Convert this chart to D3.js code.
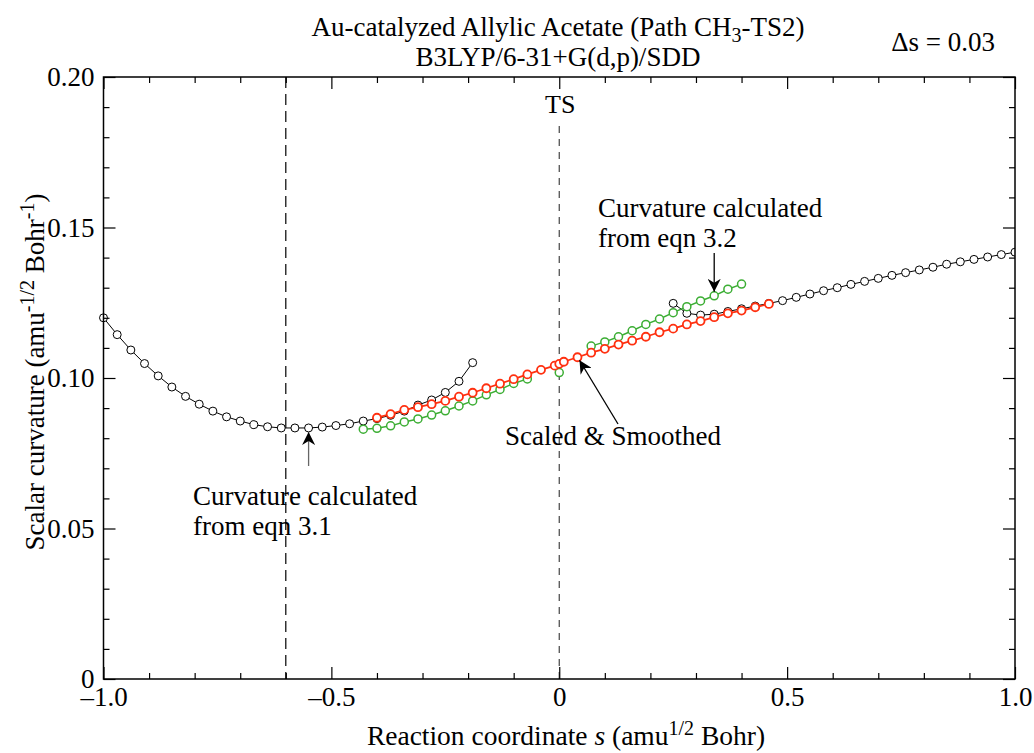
<!DOCTYPE html>
<html lang="en">

<head>
    <meta charset="UTF-8">
    <title>Scalar curvature along reaction path</title>
    <script src="https://d3js.org/d3.v7.min.js"></script>
    <style>
        body { margin: 0; background: #fff; }
        svg text { font-family: 'Liberation Serif', 'Times New Roman', Times, 'DejaVu Serif', serif; }
    </style>
</head>

<body>
    <div id="chart"></div>
    <script>
        // curvature from eqn 3.1 (black), left and right pieces
        const blackLeftS = [-1.00, -0.97, -0.94, -0.91, -0.88, -0.85, -0.82, -0.79, -0.76, -0.73, -0.70, -0.67, -0.64, -0.61,
            -0.58, -0.55, -0.52, -0.49, -0.46, -0.43, -0.40, -0.37, -0.34, -0.31, -0.28, -0.25, -0.22, -0.19];
        const blackLeftK = [0.1200, 0.1144, 0.1093, 0.1048, 0.1007, 0.0970, 0.0939, 0.0913, 0.0890, 0.0871, 0.0857, 0.0845, 0.0838, 0.0834,
            0.0834, 0.0834, 0.0837, 0.0842, 0.0848, 0.0857, 0.0865, 0.0876, 0.0890, 0.0910, 0.0927, 0.0952, 0.0989, 0.1051];
        const blackRightS = [0.25, 0.28, 0.31, 0.34, 0.37, 0.40, 0.43, 0.46, 0.49, 0.52, 0.55, 0.58, 0.61, 0.64,
            0.67, 0.70, 0.73, 0.76, 0.79, 0.82, 0.85, 0.88, 0.91, 0.94, 0.97, 1.00];
        const blackRightK = [0.1248, 0.1215, 0.1209, 0.1212, 0.1221, 0.1230, 0.1239, 0.1248, 0.1257, 0.1268, 0.1279, 0.1290, 0.1300, 0.1311,
            0.1321, 0.1331, 0.1341, 0.1350, 0.1359, 0.1368, 0.1378, 0.1386, 0.1394, 0.1402, 0.1410, 0.1418];

        // curvature from eqn 3.2 (green)
        const greenLeftS = [-0.43, -0.40, -0.37, -0.34, -0.31, -0.28, -0.25, -0.22, -0.19, -0.16, -0.13, -0.10, -0.07];
        const greenLeftK = [0.0830, 0.0833, 0.0841, 0.0854, 0.0864, 0.0877, 0.0891, 0.0907, 0.0924, 0.0944, 0.0962, 0.0982, 0.0997];
        const greenTsS = [0.00];
        const greenTsK = [0.1018];
        const greenRightS = [0.07, 0.10, 0.13, 0.16, 0.19, 0.22, 0.25, 0.28, 0.31, 0.34, 0.37, 0.40];
        const greenRightK = [0.1106, 0.1120, 0.1137, 0.1157, 0.1178, 0.1196, 0.1217, 0.1237, 0.1256, 0.1273, 0.1295, 0.1312];

        // scaled & smoothed (red)
        const redS = [-0.40, -0.37, -0.34, -0.31, -0.28, -0.25, -0.22, -0.19, -0.16, -0.13, -0.10, -0.07, -0.04, -0.01,
            0.00, 0.01, 0.04, 0.07, 0.10, 0.13, 0.16, 0.19, 0.22, 0.25, 0.28, 0.31, 0.34, 0.37, 0.40, 0.43, 0.46];
        const redK = [0.0868, 0.0880, 0.0894, 0.0903, 0.0913, 0.0924, 0.0938, 0.0951, 0.0966, 0.0981, 0.0996, 0.1012, 0.1027, 0.1041,
            0.1047, 0.1054, 0.1069, 0.1084, 0.1097, 0.1111, 0.1124, 0.1137, 0.1152, 0.1164, 0.1178, 0.1189, 0.1202, 0.1215, 0.1224, 0.1235, 0.1246];

        const xMajor = [-1.0, -0.5, 0, 0.5, 1.0];
        const xMajorLabels = ["\u20131.0", "\u20130.5", "0", "0.5", "1.0"];
        const xMinor = [-0.9, -0.8, -0.7, -0.6, -0.4, -0.3, -0.2, -0.1, 0.1, 0.2, 0.3, 0.4, 0.6, 0.7, 0.8, 0.9];
        const yMajor = [0, 0.05, 0.10, 0.15, 0.20];
        const yMajorLabels = ["0", "0.05", "0.10", "0.15", "0.20"];
        const yMinor = [0.01, 0.02, 0.03, 0.04, 0.06, 0.07, 0.08, 0.09, 0.11, 0.12, 0.13, 0.14, 0.16, 0.17, 0.18, 0.19];
        const markerLines = [-0.6, 0];

        const width = 1034;
        const height = 753;
        const pLeft = 103.5, pRight = 1015, pTop = 77, pBottom = 679;
        const serif = "'Liberation Serif', 'Times New Roman', Times, 'DejaVu Serif', serif";
        const fs = 27, supFs = 20;

        const svg = d3.select("#chart")
            .append("svg")
            .attr("width", width)
            .attr("height", height)
            .attr("font-family", serif);

        const x = d3.scaleLinear().domain([-1, 1]).range([pLeft, pRight]);
        const y = d3.scaleLinear().domain([0, 0.2]).range([pBottom, pTop]);

        const defs = svg.append("defs");
        defs.append("clipPath").attr("id", "clip")
            .append("rect")
            .attr("x", pLeft - 10).attr("y", pTop)
            .attr("width", pRight - pLeft + 10).attr("height", pBottom - pTop);

        // dashed reference lines
        svg.append("line")
            .attr("x1", x(markerLines[0])).attr("x2", x(markerLines[0]))
            .attr("y1", pTop).attr("y2", pBottom)
            .attr("stroke", "#000").attr("stroke-width", 1.2).attr("stroke-dasharray", "11,6");
        svg.append("line")
            .attr("x1", x(markerLines[1])).attr("x2", x(markerLines[1]))
            .attr("y1", 126).attr("y2", pBottom)
            .attr("stroke", "#444").attr("stroke-width", 1.2).attr("stroke-dasharray", "7,6");

        svg.append("text")
            .attr("x", x(0) + 1).attr("y", 113)
            .attr("text-anchor", "middle")
            .attr("font-size", fs - 1)
            .text("TS");

        const plot = svg.append("g").attr("clip-path", "url(#clip)");
        const line = d3.line().x(d => x(d[0])).y(d => y(d[1]));

        function series(sArr, kArr, color, lw) {
            const pts = sArr.map((s, i) => [s, kArr[i]]);
            plot.append("path")
                .datum(pts)
                .attr("d", line)
                .attr("fill", "none")
                .attr("stroke", color)
                .attr("stroke-width", lw);
            plot.append("g")
                .selectAll("circle")
                .data(pts)
                .enter()
                .append("circle")
                .attr("cx", d => x(d[0]))
                .attr("cy", d => y(d[1]))
                .attr("r", 4)
                .attr("fill", "#fff")
                .attr("stroke", color)
                .attr("stroke-width", lw);
        }

        series(blackLeftS, blackLeftK, "#000", 1);
        series(blackRightS, blackRightK, "#000", 1);
        series(greenLeftS, greenLeftK, "#3cae34", 1.5);
        series(greenTsS, greenTsK, "#3cae34", 1.5);
        series(greenRightS, greenRightK, "#3cae34", 1.5);
        series(redS, redK, "#ff3010", 1.8);

        // axes with inward ticks
        function noDomain(g) { g.select(".domain").remove(); }

        svg.append("g").attr("transform", `translate(0,${pBottom})`)
            .call(d3.axisBottom(x).tickValues(xMajor).tickSize(-12).tickPadding(8)
                .tickFormat((d, i) => xMajorLabels[i]))
            .call(noDomain);
        svg.append("g").attr("transform", `translate(0,${pBottom})`)
            .call(d3.axisBottom(x).tickValues(xMinor).tickSize(-6).tickFormat(""))
            .call(noDomain);
        svg.append("g").attr("transform", `translate(0,${pTop})`)
            .call(d3.axisTop(x).tickValues(xMajor).tickSize(-12).tickFormat(""))
            .call(noDomain);
        svg.append("g").attr("transform", `translate(0,${pTop})`)
            .call(d3.axisTop(x).tickValues(xMinor).tickSize(-6).tickFormat(""))
            .call(noDomain);
        svg.append("g").attr("transform", `translate(${pLeft},0)`)
            .call(d3.axisLeft(y).tickValues(yMajor).tickSize(-12).tickPadding(9)
                .tickFormat((d, i) => yMajorLabels[i]))
            .call(noDomain);
        svg.append("g").attr("transform", `translate(${pLeft},0)`)
            .call(d3.axisLeft(y).tickValues(yMinor).tickSize(-6).tickFormat(""))
            .call(noDomain);
        svg.append("g").attr("transform", `translate(${pRight},0)`)
            .call(d3.axisRight(y).tickValues(yMajor).tickSize(-12).tickFormat(""))
            .call(noDomain);
        svg.append("g").attr("transform", `translate(${pRight},0)`)
            .call(d3.axisRight(y).tickValues(yMinor).tickSize(-6).tickFormat(""))
            .call(noDomain);

        svg.selectAll("g").attr("font-family", serif);
        svg.selectAll(".tick line").attr("stroke", "#000").attr("stroke-width", 1.2);
        svg.selectAll(".tick text")
            .attr("font-size", fs)
            .attr("fill", "#000");

        svg.append("rect")
            .attr("x", pLeft).attr("y", pTop)
            .attr("width", pRight - pLeft).attr("height", pBottom - pTop)
            .attr("fill", "none").attr("stroke", "#000").attr("stroke-width", 1.5);

        // titles
        const t1 = svg.append("text").attr("x", 558).attr("y", 36)
            .attr("text-anchor", "middle").attr("font-size", fs);
        t1.append("tspan").text("Au-catalyzed Allylic Acetate (Path CH");
        t1.append("tspan").attr("font-size", supFs).attr("dy", 6).text("3");
        t1.append("tspan").attr("dy", -6).text("-TS2)");

        svg.append("text").attr("x", 558).attr("y", 66)
            .attr("text-anchor", "middle").attr("font-size", fs)
            .text("B3LYP/6-31+G(d,p)/SDD");

        svg.append("text").attr("x", 995).attr("y", 51)
            .attr("text-anchor", "end").attr("font-size", fs)
            .text("\u0394s = 0.03");

        const xt = svg.append("text").attr("x", 566).attr("y", 745)
            .attr("text-anchor", "middle").attr("font-size", 27.5);
        xt.append("tspan").text("Reaction coordinate ");
        xt.append("tspan").attr("font-style", "italic").text("s");
        xt.append("tspan").text(" (amu");
        xt.append("tspan").attr("font-size", supFs).attr("dy", -10).text("1/2");
        xt.append("tspan").attr("dy", 10).text(" Bohr)");

        const yt = svg.append("text")
            .attr("transform", "translate(44,372) rotate(-90)")
            .attr("text-anchor", "middle").attr("font-size", fs);
        yt.append("tspan").text("Scalar curvature (amu");
        yt.append("tspan").attr("font-size", supFs).attr("dy", -10).text("-1/2");
        yt.append("tspan").attr("dy", 10).text(" Bohr");
        yt.append("tspan").attr("font-size", supFs).attr("dy", -10).text("-1");
        yt.append("tspan").attr("dy", 10).text(")");

        // annotations
        defs.append("marker")
            .attr("id", "arrow")
            .attr("viewBox", "0 0 10 10")
            .attr("refX", 10).attr("refY", 5)
            .attr("markerWidth", 13).attr("markerHeight", 13)
            .attr("markerUnits", "userSpaceOnUse")
            .attr("orient", "auto")
            .append("path")
            .attr("d", "M0,0 L10,5 L0,10 L3,5 Z")
            .attr("fill", "#000");

        function arrow(x1, y1, x2, y2, color) {
            svg.append("line")
                .attr("x1", x1).attr("y1", y1).attr("x2", x2).attr("y2", y2)
                .attr("stroke", color).attr("stroke-width", 1.3)
                .attr("marker-end", "url(#arrow)");
        }

        arrow(x(-0.55), 466, x(-0.55), y(0.0834) + 4, "#666");
        arrow(618, 424, x(0.04) + 2, y(0.1069) + 3, "#000");
        arrow(x(0.34), 253, x(0.34), y(0.1273) - 4, "#000");

        function label(x0, y0, lines) {
            lines.forEach((txt, i) => {
                svg.append("text").attr("x", x0).attr("y", y0 + i * 30)
                    .attr("font-size", fs).text(txt);
            });
        }
        label(193, 505, ["Curvature calculated", "from eqn 3.1"]);
        label(505, 445, ["Scaled & Smoothed"]);
        label(598, 217, ["Curvature calculated", "from eqn 3.2"]);
    </script>
</body>

</html>
